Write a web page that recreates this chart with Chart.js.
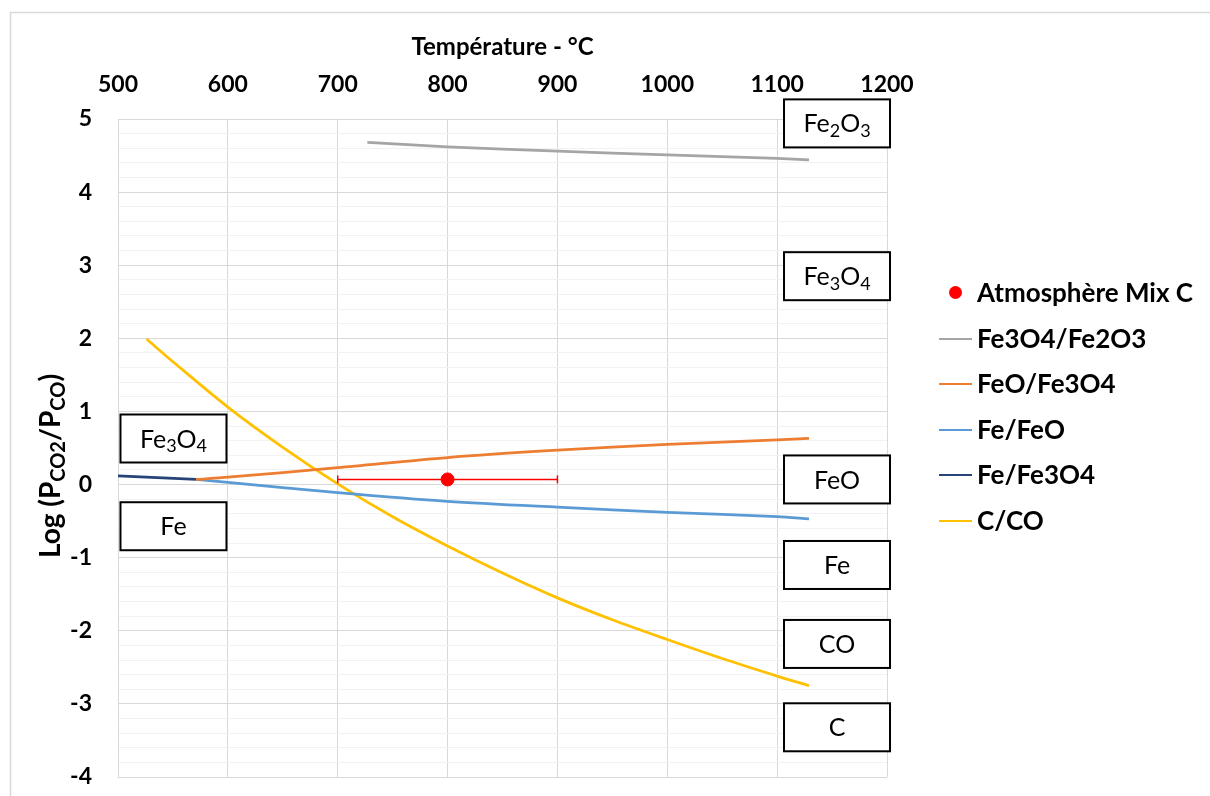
<!DOCTYPE html>
<html>
<head>
<meta charset="utf-8">
<script src="https://cdn.jsdelivr.net/npm/chart.js@4/dist/chart.umd.min.js"></script>
<style>
  body { margin: 0; background: #fff; }
  #wrap { position: relative; width: 1210px; height: 796px; overflow: hidden; }
  #legend { position: absolute; left: 930px; top: 270px; font-family: Lato, sans-serif; font-weight: bold; font-size: 26px; color: #000; white-space: nowrap; }
  #legend .item { position: relative; height: 45.6px; line-height: 45.6px; padding-left: 47px; }
  #legend .mark { position: absolute; }
</style>
</head>
<body>
<div id="wrap">
  <canvas id="myChart" width="1210" height="796"></canvas>
  <div id="legend"></div>
</div>
<script>
// temperatures (°C) and log(PCO2/PCO) values
const tempFe3O4Fe2O3 = [727, 800, 900, 1000, 1100, 1129];
const valFe3O4Fe2O3 = [4.68, 4.62, 4.56, 4.51, 4.46, 4.44];

const tempFeOFe3O4 = [571, 600, 700, 800, 900, 1000, 1100, 1129];
const valFeOFe3O4 = [0.07, 0.10, 0.23, 0.37, 0.47, 0.55, 0.61, 0.63];

const tempFeFeO = [571, 600, 700, 800, 900, 1000, 1100, 1129];
const valFeFeO = [0.07, 0.03, -0.11, -0.23, -0.31, -0.38, -0.44, -0.47];

const tempFeFe3O4 = [500, 571];
const valFeFe3O4 = [0.12, 0.07];

const tempCCO = [526, 550, 600, 650, 700, 750, 800, 850, 900, 950, 1000, 1050, 1100, 1129];
const valCCO = [1.99, 1.68, 1.06, 0.51, 0.01, -0.44, -0.84, -1.21, -1.55, -1.85, -2.12, -2.38, -2.62, -2.75];

// Atmosphère Mix C : 800 °C +/- 100
const mixTemp = [800];
const mixVal = [0.07];
const mixErr = [100];

const xTicks = [500, 600, 700, 800, 900, 1000, 1100, 1200];

// phase labels (text, temperature, log value at box centre)
const phaseText = ['Fe{2}O{3}', 'Fe{3}O{4}', 'FeO', 'Fe', 'CO', 'C', 'Fe{3}O{4}', 'Fe'];
const phaseTemp = [1154.5, 1154.5, 1154.5, 1154.5, 1154.5, 1154.5, 550.5, 550.5];
const phaseVal = [4.94, 2.85, 0.07, -1.10, -2.18, -3.32, 0.63, -0.57];

const toPts = (xs, ys) => xs.map((x, i) => ({ x: x, y: ys[i] }));

const lineSeries = [
    { label: 'Fe3O4/Fe2O3', data: toPts(tempFe3O4Fe2O3, valFe3O4Fe2O3), color: '#A5A5A5' },
    { label: 'FeO/Fe3O4', data: toPts(tempFeOFe3O4, valFeOFe3O4), color: '#ED7D31' },
    { label: 'Fe/FeO', data: toPts(tempFeFeO, valFeFeO), color: '#5B9BD5' },
    { label: 'Fe/Fe3O4', data: toPts(tempFeFe3O4, valFeFe3O4), color: '#264478' },
    { label: 'C/CO', data: toPts(tempCCO, valCCO), color: '#FFC000' }
];

const datasets = [{
    label: 'Atmosphère Mix C',
    data: toPts(mixTemp, mixVal),
    showLine: false,
    pointRadius: 6.5,
    pointBackgroundColor: '#FF0000',
    pointBorderColor: '#FF0000',
    order: 0
}, {
    label: 'err',
    data: [{ x: mixTemp[0] - mixErr[0], y: mixVal[0] }, { x: mixTemp[0] + mixErr[0], y: mixVal[0] }],
    showLine: true,
    borderColor: '#FF0000',
    backgroundColor: '#FF0000',
    borderWidth: 1.5,
    pointStyle: 'line',
    rotation: 90,
    pointRadius: 4,
    pointBorderWidth: 1.5,
    pointBorderColor: '#FF0000',
    order: 1
}];
lineSeries.forEach(s => {
    datasets.push({
        label: s.label,
        data: s.data,
        showLine: true,
        borderColor: s.color,
        borderWidth: 2.75,
        pointRadius: 0,
        tension: 0.3,
        order: 2
    });
});

const isMajor = v => Math.abs(v - Math.round(v)) < 1e-6;

// chart frame, y title with subscripts, phase boxes
const extras = {
    id: 'extras',
    beforeDraw(chart) {
        const c = chart.ctx;
        c.save();
        c.strokeStyle = '#D9D9D9';
        c.lineWidth = 1.5;
        c.strokeRect(10.5, 12.5, 1400, 1000);
        c.restore();
    },
    afterDraw(chart) {
        const c = chart.ctx;
        const xs = chart.scales.x, ys = chart.scales.y;

        function parts(str) {
            return str.split(/(\{[^}]*\})/).filter(p => p).map(p =>
                p[0] === '{' ? { t: p.slice(1, -1), sub: true } : { t: p, sub: false });
        }
        function drawRich(list, cx, cy, big, small, weight, shift) {
            let w = 0;
            list.forEach(p => {
                c.font = weight + ' ' + (p.sub ? small : big) + 'px Lato';
                p.w = c.measureText(p.t).width;
                w += p.w;
            });
            let x = cx - w / 2;
            c.textBaseline = 'middle';
            c.textAlign = 'left';
            list.forEach(p => {
                c.font = weight + ' ' + (p.sub ? small : big) + 'px Lato';
                c.fillText(p.t, x, cy + (p.sub ? shift : 0));
                x += p.w;
            });
        }

        // phase boxes
        c.save();
        phaseText.forEach((txt, i) => {
            const cx = xs.getPixelForValue(phaseTemp[i]);
            const cy = ys.getPixelForValue(phaseVal[i]);
            c.fillStyle = '#fff';
            c.fillRect(cx - 53, cy - 24, 106, 48);
            c.strokeStyle = '#000';
            c.lineWidth = 2;
            c.strokeRect(cx - 53, cy - 24, 106, 48);
            c.fillStyle = '#000';
            drawRich(parts(txt), cx, cy + 1, 25, 18, 'normal', 7);
        });
        c.restore();

        // y axis title
        c.save();
        c.translate(51, 466);
        c.rotate(-Math.PI / 2);
        c.fillStyle = '#000';
        drawRich(parts('Log (P{CO2}/P{CO})'), 0, 0, 28, 20, 'bold', 8);
        c.restore();
    }
};

const myChart = new Chart(document.getElementById('myChart'), {
    type: 'scatter',
    data: { datasets: datasets },
    options: {
        responsive: false,
        animation: false,
        layout: { padding: { left: 0, top: 0, right: 323, bottom: 19 } },
        plugins: { legend: { display: false }, tooltip: { enabled: false } },
        scales: {
            x: {
                type: 'linear',
                position: 'top',
                min: 500,
                max: 1200,
                afterBuildTicks: axis => { axis.ticks = xTicks.map(v => ({ value: v })); },
                afterFit: axis => {
                    axis.height = 119;
                    axis.paddingLeft = 0;
                    axis.paddingRight = 0;
                },
                grid: { color: '#D9D9D9', drawTicks: false },
                border: { color: '#D9D9D9' },
                ticks: {
                    color: '#000',
                    padding: 21,
                    font: { family: 'Lato', size: 23, weight: 'bold' },
                    callback: v => String(v)
                },
                title: {
                    display: true,
                    text: 'Température - °C',
                    color: '#000',
                    padding: { top: 33, bottom: 0 },
                    font: { family: 'Lato', size: 24, weight: 'bold' }
                }
            },
            y: {
                type: 'linear',
                min: -4,
                max: 5,
                afterFit: axis => {
                    axis.width = 118;
                    axis.paddingTop = 0;
                    axis.paddingBottom = 0;
                },
                grid: {
                    drawTicks: false,
                    color: ctx => isMajor(ctx.tick.value) ? '#D9D9D9' : '#F2F2F2'
                },
                border: { color: '#D9D9D9' },
                ticks: {
                    stepSize: 0.2,
                    autoSkip: false,
                    color: '#000',
                    padding: 26,
                    font: { family: 'Lato', size: 23, weight: 'bold' },
                    callback: v => isMajor(v) ? String(Math.round(v)) : ''
                }
            }
        }
    },
    plugins: [extras]
});

// legend built from the chart's datasets
const legend = document.getElementById('legend');
myChart.data.datasets.filter(d => d.label !== 'err').forEach(d => {
    const item = document.createElement('div');
    item.className = 'item';
    const mark = document.createElement('span');
    mark.className = 'mark';
    if (d.showLine) {
        mark.style.cssText = 'left:9px;top:22px;width:33px;height:2px;background:' + d.borderColor;
    } else {
        mark.style.cssText = 'left:19px;top:16px;width:13px;height:13px;border-radius:50%;background:' + d.pointBackgroundColor;
    }
    item.appendChild(mark);
    item.appendChild(document.createTextNode(d.label));
    legend.appendChild(item);
});
</script>
</body>
</html>
